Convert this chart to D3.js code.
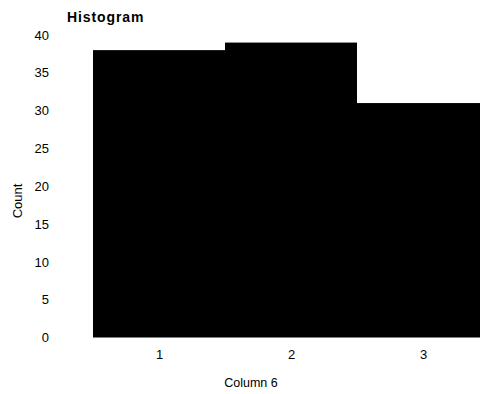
<!DOCTYPE html>
<html>
<head>
<meta charset="utf-8">
<script src="https://cdn.jsdelivr.net/npm/d3@7"></script>
<style>
  body { margin: 0; background: #fff; }
  text { font-family: "Liberation Sans", Arial, sans-serif; }
</style>
</head>
<body>
<div class="chart"></div>
<script>
const bins = [1, 2, 3];
const counts = [38, 39, 31];
const yTicks = [0, 5, 10, 15, 20, 25, 30, 35, 40];

const width = 480;
const height = 394;

const svg = d3.select('.chart')
  .append('svg')
  .attr('width', width)
  .attr('height', height);

// bins are centred on integers, width 1
const x = d3.scaleLinear()
  .domain([0.5, 3.5])
  .range([93, 489]);

const y = d3.scaleLinear()
  .domain([0, 40])
  .range([337.5, 35]);

svg.selectAll('rect')
  .data(bins)
  .enter()
  .append('rect')
  .attr('x', d => x(d - 0.5))
  .attr('width', d => x(d + 0.5) - x(d - 0.5))
  .attr('y', (d, i) => y(counts[i]))
  .attr('height', (d, i) => y(0) - y(counts[i]))
  .attr('fill', '#000');

const yAxis = svg.append('g')
  .attr('transform', 'translate(49,0)')
  .call(d3.axisLeft(y).tickValues(yTicks).tickSize(0).tickPadding(0));
yAxis.select('.domain').remove();
yAxis.selectAll('text')
  .attr('font-size', '13px')
  .attr('font-family', '"Liberation Sans", Arial, sans-serif')
  .attr('fill', '#000');

const xAxis = svg.append('g')
  .attr('transform', 'translate(0,350)')
  .call(d3.axisBottom(x).tickValues(bins).tickFormat(d3.format('d')).tickSize(0).tickPadding(0));
xAxis.select('.domain').remove();
xAxis.selectAll('text')
  .attr('font-size', '13px')
  .attr('font-family', '"Liberation Sans", Arial, sans-serif')
  .attr('fill', '#000');

svg.append('text')
  .attr('x', 67)
  .attr('y', 22)
  .attr('font-size', '14px')
  .attr('font-weight', 'bold')
  .attr('letter-spacing', '0.9px')
  .text('Histogram');

svg.append('text')
  .attr('transform', 'translate(22,201) rotate(-90)')
  .attr('text-anchor', 'middle')
  .attr('font-size', '13px')
  .text('Count');

svg.append('text')
  .attr('x', 251)
  .attr('y', 387)
  .attr('text-anchor', 'middle')
  .attr('font-size', '12.5px')
  .text('Column 6');
</script>
</body>
</html>
